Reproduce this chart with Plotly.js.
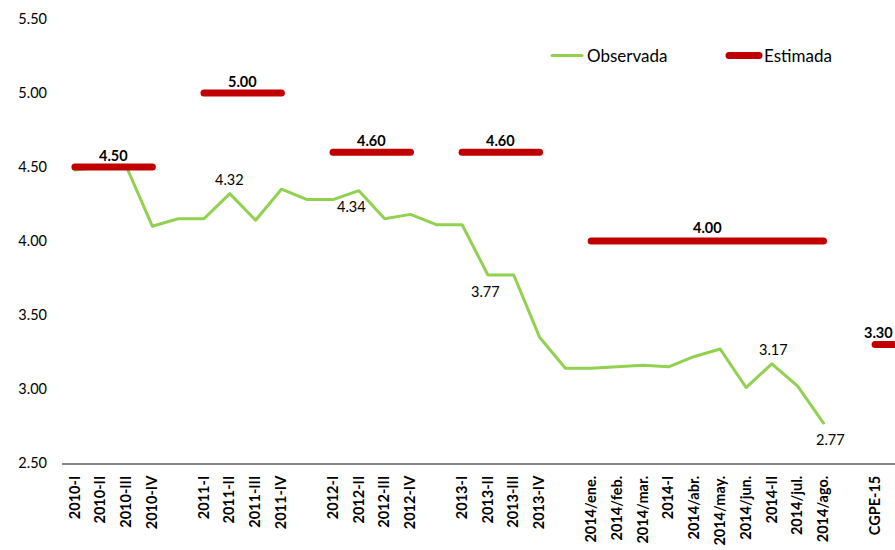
<!DOCTYPE html>
<html>
<head>
<meta charset="utf-8">
<script src="https://cdn.plot.ly/plotly-3.0.1.min.js"></script>
<style>
html,body{margin:0;padding:0;background:#fff;}
#chart{width:895px;height:550px;}
#chart path.js-line{stroke-linecap:round !important;stroke-linejoin:round !important;}
</style>
</head>
<body>
<div id="chart"></div>
<script>
// Category labels ("" = gap slots in the original chart)
const categories = [
  "2010-I","2010-II","2010-III","2010-IV","",
  "2011-I","2011-II","2011-III","2011-IV","",
  "2012-I","2012-II","2012-III","2012-IV","",
  "2013-I","2013-II","2013-III","2013-IV","",
  "2014/ene.","2014/feb.","2014/mar.","2014-I","2014/abr.","2014/may.","2014/jun.","2014-II","2014/jul.","2014/ago.","",
  "CGPE-15",""
];
// Observed series
const observada = [
  4.48,4.50,4.50,4.10,4.15,
  4.15,4.32,4.14,4.35,4.28,
  4.28,4.34,4.15,4.18,4.11,
  4.11,3.77,3.77,3.35,3.14,
  3.14,3.15,3.16,3.15,3.22,3.27,3.01,3.17,3.02,2.77,null,
  null,null
];
// Estimated series
const estimada = [
  4.50,4.50,4.50,4.50,null,
  5.00,5.00,5.00,5.00,null,
  4.60,4.60,4.60,4.60,null,
  4.60,4.60,4.60,4.60,null,
  4.00,4.00,4.00,4.00,4.00,4.00,4.00,4.00,4.00,4.00,null,
  3.30,3.30
];
// Which observed points carry a value label, and where
const obsLabelIdx = [6, 11, 16, 27, 29];
const obsLabelPos = ["above","below","below","above","below"];
const obsLabelXShift = [0, -7, -2, 2, 7];
const yTicks = [2.5,3.0,3.5,4.0,4.5,5.0,5.5];

const xs = categories.map((c,i)=>i);
const FONT = "Lato, 'Noto Sans', sans-serif";

const traces = [
  {x: xs, y: observada, type:'scatter', mode:'lines', name:'Observada',
   line:{color:'#92D050', width:3}, connectgaps:false, hoverinfo:'skip'},
  {x: xs, y: estimada, type:'scatter', mode:'lines', name:'Estimada',
   line:{color:'#C00000', width:7}, connectgaps:false, hoverinfo:'skip'}
];

const annotations = [];
// labels for estimated runs: centered over each run
let start = null;
for (let i=0;i<=estimada.length;i++){
  const v = i<estimada.length ? estimada[i] : null;
  if (v!==null && start===null) start = i;
  if (v===null && start!==null){
    const end = i-1;
    const isLast = end===estimada.length-1;
    annotations.push({x:(start+end)/2, y:estimada[start], xref:'x', yref:'y',
      text:'<b>'+estimada[start].toFixed(2)+'</b>', showarrow:false,
      yanchor:'middle', yshift: estimada[start]===4.0 ? 14 : 12, xshift: isLast ? -10 : 0,
      font:{family:FONT, size:14.5, color:'#000'}});
    start = null;
  }
}
obsLabelIdx.forEach((idx,k)=>{
  annotations.push({x:idx, y:observada[idx], xref:'x', yref:'y',
    text: observada[idx].toFixed(2), showarrow:false, yanchor:'middle',
    yshift: obsLabelPos[k]==='above' ? 14 : -16, xshift: obsLabelXShift[k],
    font:{family:FONT, size:14.5, color:'#000'}});
});

const layout = {
  width:895, height:550,
  margin:{l:62, r:0, t:19, b:87, autoexpand:false},
  paper_bgcolor:'#fff', plot_bgcolor:'#fff',
  font:{family:FONT, color:'#000'},
  showlegend:true,
  legend:{orientation:'h', x:(547-62)/833, xanchor:'left', y:(463-56)/444, yanchor:'middle',
    font:{family:FONT, size:17, color:'#000'}, bgcolor:'rgba(0,0,0,0)',
    entrywidth:132, entrywidthmode:'pixels', itemwidth:30},
  xaxis:{range:[-0.5, 31.77], tickmode:'array', tickvals:xs, ticktext:categories.map(c=>'<b>'+c+'</b>'),
    tickangle:-90, showgrid:false, zeroline:false, showline:true, linecolor:'#868686', linewidth:2,
    ticks:'', tickfont:{family:FONT, size:14.5, color:'#000'}, ticklabelstandoff:5, automargin:false},
  yaxis:{range:[2.5,5.5], tickmode:'array', tickvals:yTicks, ticktext:yTicks.map(v=>v.toFixed(2)),
    showgrid:false, zeroline:false, showline:false, ticks:'', ticklabelstandoff:14, automargin:false,
    tickfont:{family:FONT, size:14.5, color:'#000'}},
  annotations: annotations
};

Plotly.newPlot('chart', traces, layout, {displayModeBar:false, staticPlot:true});
</script>
</body>
</html>
